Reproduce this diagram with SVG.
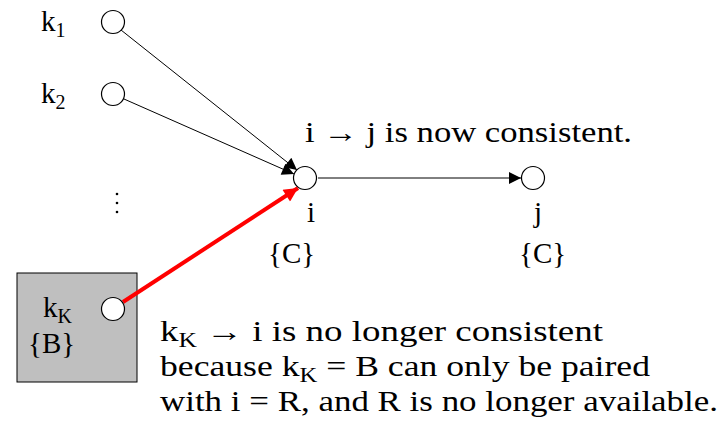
<svg xmlns="http://www.w3.org/2000/svg" width="722" height="425" viewBox="0 0 722 425" font-family="'Liberation Serif', 'DejaVu Serif', serif" font-size="29">
<defs>
<marker id="ah" viewBox="0 0 10 10" refX="10" refY="5" markerWidth="22" markerHeight="12" markerUnits="userSpaceOnUse" orient="auto"><path d="M0,0 L10,5 L0,10 Z" fill="#000"/></marker>
<marker id="ahr" viewBox="0 0 10 10" refX="10" refY="5" markerWidth="26" markerHeight="14" markerUnits="userSpaceOnUse" orient="auto"><path d="M0,0 L10,5 L0,10 Z" fill="#f00"/></marker>
</defs>
<rect x="17" y="273" width="120" height="109" fill="#bfbfbf" stroke="#000" stroke-width="1"/>
<g id="connectors" fill="none">
<line stroke="#000" stroke-width="1" x1="121" y1="30" x2="297" y2="170" marker-end="url(#ah)"/>
<line stroke="#000" stroke-width="1" x1="124" y1="99" x2="294" y2="174" marker-end="url(#ah)"/>
<line stroke="#000" stroke-width="1" x1="318" y1="178" x2="521" y2="178" marker-end="url(#ah)"/>
<line stroke="#f00" stroke-width="4" x1="123" y1="302" x2="298" y2="188" marker-end="url(#ahr)"/>
</g>
<g id="k1"><circle fill="#fff" stroke="#000" stroke-width="1.2" cx="113" cy="22" r="11.5"/><text x="41" y="31">k<tspan font-size="20" dy="6">1</tspan></text></g>
<g id="k2"><circle fill="#fff" stroke="#000" stroke-width="1.2" cx="113" cy="94" r="11.5"/><text x="41" y="103">k<tspan font-size="20" dy="6">2</tspan></text></g>
<g id="dots"><circle cx="117" cy="194" r="1.3"/><circle cx="117" cy="203" r="1.3"/><circle cx="117" cy="212" r="1.3"/></g>
<g id="kK"><circle fill="#fff" stroke="#000" stroke-width="1.2" cx="113" cy="309" r="11.5"/><text x="43" y="317">k<tspan font-size="20" dy="6">K</tspan></text><text x="28" y="353">{B}</text></g>
<g id="i"><circle fill="#fff" stroke="#000" stroke-width="1.2" cx="305" cy="178" r="11.5"/><text x="307" y="222">i</text><text x="268" y="263">{C}</text></g>
<g id="j"><circle fill="#fff" stroke="#000" stroke-width="1.2" cx="533" cy="178" r="11.5"/><text x="534" y="222">j</text><text x="519" y="263">{C}</text></g>
<text x="305" y="142" textLength="327" lengthAdjust="spacingAndGlyphs">i → j is now consistent.</text>
<text x="160" y="341" textLength="443" lengthAdjust="spacingAndGlyphs">k<tspan font-size="20" dy="6">K</tspan><tspan dy="-6"> → i is no longer consistent</tspan></text>
<text x="160" y="376" textLength="490" lengthAdjust="spacingAndGlyphs">because k<tspan font-size="20" dy="6">K</tspan><tspan dy="-6"> = B can only be paired</tspan></text>
<text x="160" y="411" textLength="558" lengthAdjust="spacingAndGlyphs">with i = R, and R is no longer available.</text>
</svg>
